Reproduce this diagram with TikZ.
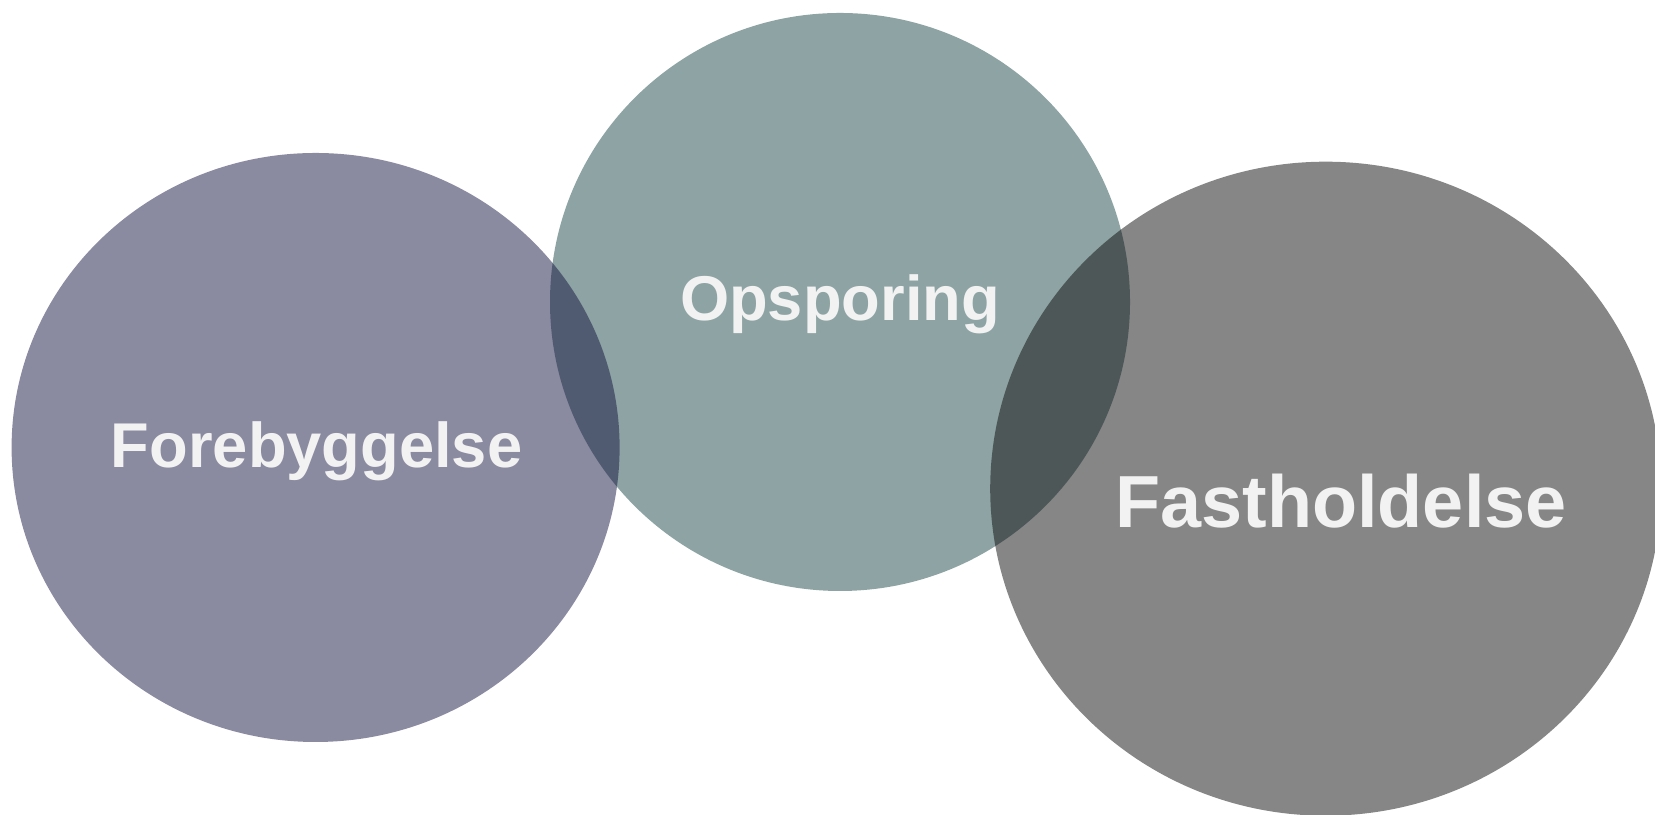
\documentclass[tikz,border=0pt]{standalone}
\usepackage{fontspec}
\setmainfont{Liberation Sans}
\usetikzlibrary{shapes.geometric}
\definecolor{forecol}{RGB}{21,21,65}
\definecolor{opscol}{RGB}{29,71,71}
\definecolor{fastcol}{RGB}{13,13,13}
\tikzstyle{blob} = [ellipse, draw=none, inner sep=0pt, fill opacity=0.5]
\tikzstyle{word} = [text=white!95!black, font=\bfseries, inner sep=0pt, anchor=base]

\begin{document}
\begin{tikzpicture}
    \useasboundingbox (0,0) rectangle (16.55,8.15);

    % the three areas, middle one underneath
    \node (ops) [blob, fill=opscol, minimum width=5.80cm, minimum height=5.78cm] at (8.40,5.13) {};
    \node (fore) [blob, fill=forecol, minimum width=6.08cm, minimum height=5.89cm] at (3.156,3.675) {};
    \node (fast) [blob, fill=fastcol, minimum width=6.71cm, minimum height=6.54cm] at (13.257,3.263) {};

    % labels
    \node (fore_text) [word, font=\bfseries\fontsize{18pt}{22pt}\selectfont] at ([xshift=0.01cm, yshift=-0.205cm]fore.center) {Forebyggelse};
    \node (ops_text) [word, font=\bfseries\fontsize{18pt}{22pt}\selectfont] at ([yshift=-0.19cm]ops.center) {Opsporing};
    \node (fast_text) [word, font=\bfseries\fontsize{21pt}{25pt}\selectfont] at ([xshift=0.153cm, yshift=-0.393cm]fast.center) {Fastholdelse};

\end{tikzpicture}
\end{document}
